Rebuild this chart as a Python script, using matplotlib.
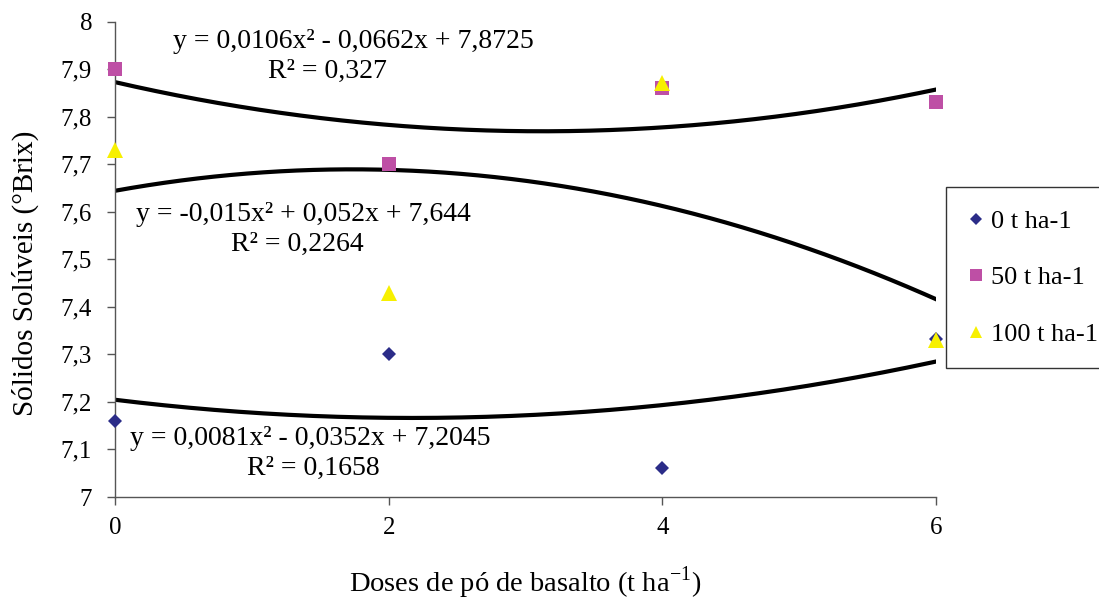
import numpy as np
import matplotlib
matplotlib.use("Agg")
import matplotlib.pyplot as plt
from matplotlib.lines import Line2D

plt.rcParams['font.family'] = ['Liberation Serif', 'DejaVu Serif']
plt.rcParams['mathtext.fontset'] = 'custom'
plt.rcParams['mathtext.rm'] = 'Liberation Serif'

# Doses and measured soluble solids for each rate
doses = [0, 2, 4, 6]
brix_0 = [7.16, 7.30, 7.06, 7.332]
brix_50 = [7.90, 7.70, 7.86, 7.83]
brix_100 = [7.73, 7.43, 7.87, 7.33]

# Quadratic fits (a, b, c) for y = a*x^2 + b*x + c
fit_0 = (0.0081, -0.0352, 7.2045)
fit_50 = (0.0106, -0.0662, 7.8725)
fit_100 = (-0.015, 0.052, 7.644)

labels = ['0 t ha-1', '50 t ha-1', '100 t ha-1']
colors = ['#2B2C88', '#BE4FA5', '#F7F000']
markers = ['D', 's', '^']
msizes = [7.5, 10.5, 11]

fig = plt.figure(figsize=(10.99, 6.04), dpi=100)
ax = fig.add_axes([115 / 1099, 1 - 497 / 604, 821 / 1099, 475.5 / 604])

xs = np.linspace(0, 6, 200)
for a, b, c in [fit_0, fit_50, fit_100]:
    ax.plot(xs, a * xs ** 2 + b * xs + c, color='black', lw=3, zorder=2)

# 100 t ha-1 drawn last so its triangles sit on top
for ys, col, mk, ms in zip([brix_0, brix_50, brix_100], colors, markers, msizes):
    ax.plot(doses, ys, linestyle='none', marker=mk, color=col, markersize=ms,
            markeredgewidth=0, zorder=3, clip_on=False)

ax.set_xlim(0, 6)
ax.set_ylim(7, 8)
ax.set_xticks([0, 2, 4, 6])
ax.set_yticks(np.arange(7, 8.01, 0.1))
ax.set_yticklabels(['7', '7,1', '7,2', '7,3', '7,4', '7,5', '7,6', '7,7', '7,8', '7,9', '8'])
ax.spines['top'].set_visible(False)
ax.spines['right'].set_visible(False)
for s in ['left', 'bottom']:
    ax.spines[s].set_color('#555555')
    ax.spines[s].set_linewidth(1)
ax.tick_params(axis='both', direction='out', length=5.5, width=1, color='#555555',
               labelsize=18)
ax.tick_params(axis='x', pad=9)
ax.tick_params(axis='y', pad=11)

ax.set_xlabel('Doses de pó de basalto (t ha$^{\\mathregular{-1}}$)', fontsize=20.5, labelpad=18)
ax.set_ylabel('Sólidos Solúveis (°Brix)', fontsize=21)
ax.yaxis.set_label_coords(-0.093, 0.47)

eq_kw = dict(fontsize=20, ha='center', va='center')
ax.text(1.74, 7.958, 'y = 0,0106x² - 0,0662x + 7,8725', **eq_kw)
ax.text(1.55, 7.895, 'R² = 0,327', **eq_kw)
ax.text(1.38, 7.595, 'y = -0,015x² + 0,052x + 7,644', **eq_kw)
ax.text(1.33, 7.532, 'R² = 0,2264', **eq_kw)
ax.text(1.43, 7.124, 'y = 0,0081x² - 0,0352x + 7,2045', **eq_kw)
ax.text(1.45, 7.06, 'R² = 0,1658', **eq_kw)

handles = [Line2D([], [], linestyle='none', marker=mk, color=col, markersize=ms * 0.85,
                  markeredgewidth=0)
           for col, mk, ms in zip(colors, markers, msizes)]
leg = fig.legend(handles, labels, loc='upper left',
                 bbox_to_anchor=(946 / 1099, 1 - 187 / 604), fontsize=19,
                 frameon=True, fancybox=False, edgecolor='black', handlelength=0.6,
                 handletextpad=0.25, labelspacing=1.25, borderpad=0.85, borderaxespad=0)
leg.get_frame().set_linewidth(1)

fig.savefig('out.png', dpi=100)
